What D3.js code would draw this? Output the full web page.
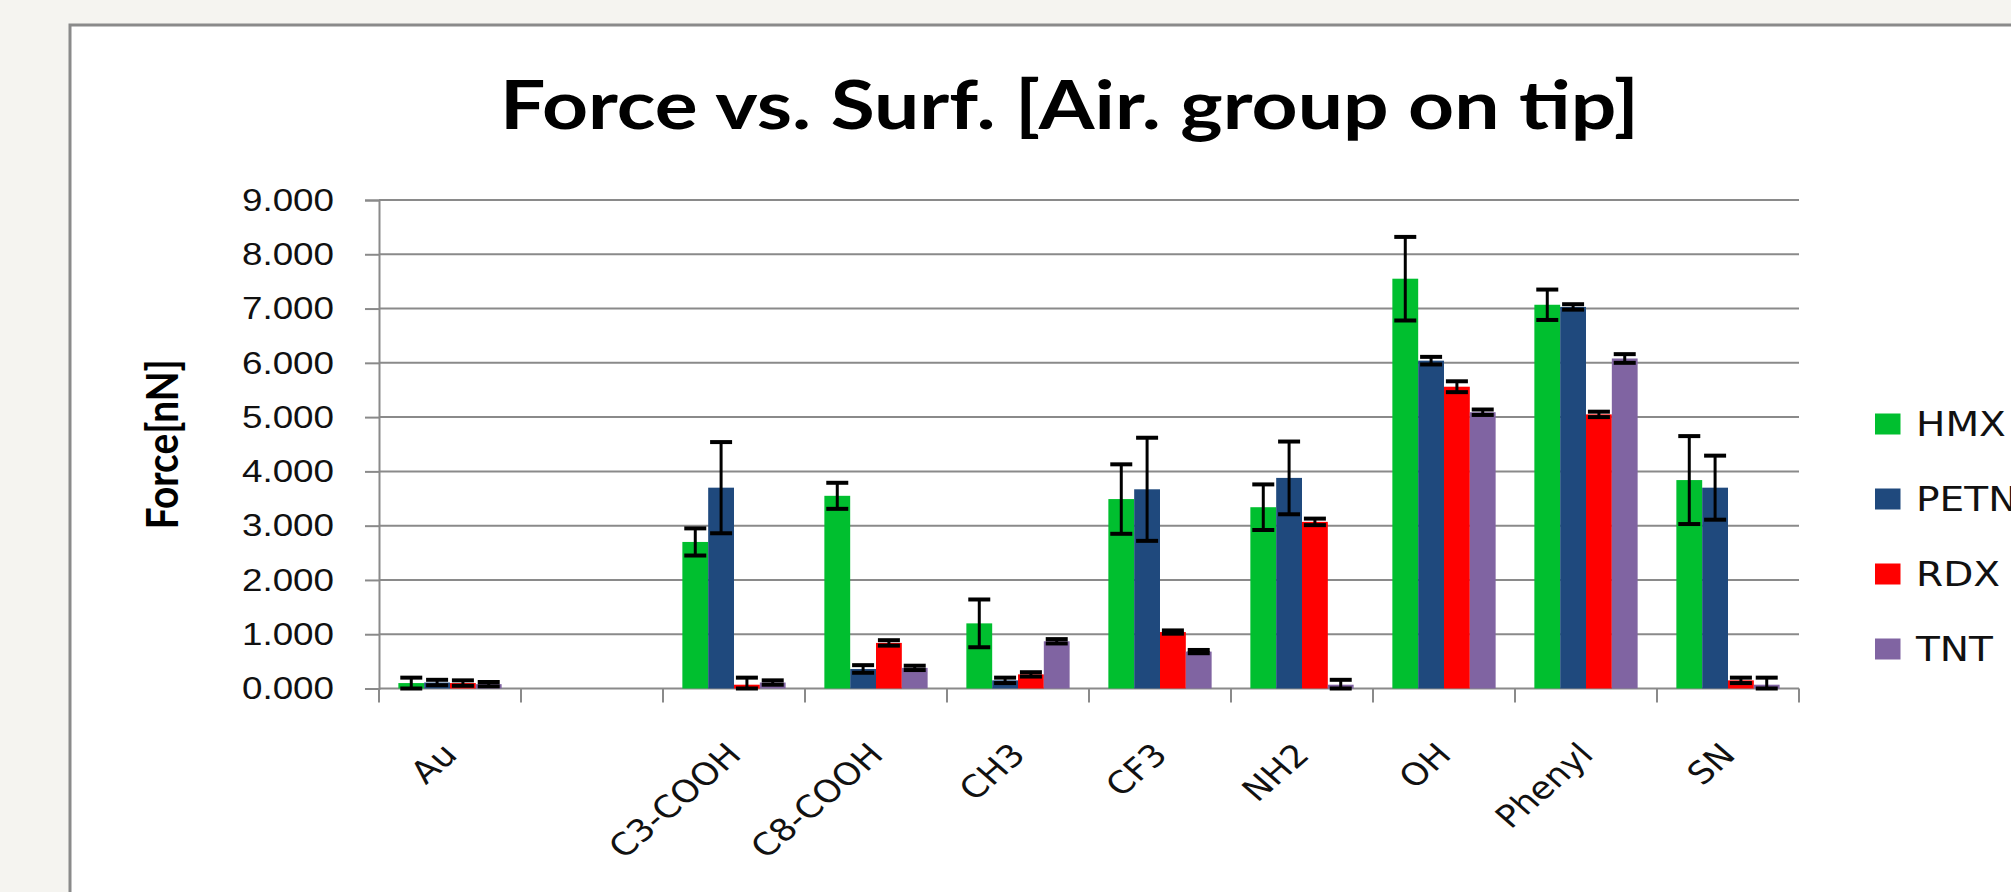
<!DOCTYPE html>
<html>
<head>
  <title>Force vs. Surf.</title>
  <script src="https://d3js.org/d3.v7.min.js"></script>
  <style>
    body { margin: 0; background: #f5f4f0; }
    svg { display: block; font-family: "DejaVu Sans", sans-serif; }
  </style>
</head>
<body>
  <svg width="2011" height="892"></svg>

  <script>
    // data
    const categories = ["Au", "", "C3-COOH", "C8-COOH", "CH3", "CF3", "NH2", "OH", "Phenyl", "SN"];
    const seriesNames = ["HMX", "PETN", "RDX", "TNT"];
    const hmx     = [0.10, null, 2.70, 3.55, 1.20, 3.49, 3.34, 7.55, 7.07, 3.84];
    const hmxErr  = [0.10, null, 0.25, 0.24, 0.44, 0.64, 0.42, 0.77, 0.28, 0.81];
    const petn    = [0.11, null, 3.70, 0.36, 0.15, 3.67, 3.88, 6.04, 7.03, 3.70];
    const petnErr = [0.05, null, 0.84, 0.07, 0.05, 0.95, 0.67, 0.07, 0.05, 0.59];
    const rdx     = [0.10, null, 0.07, 0.84, 0.26, 1.04, 3.07, 5.56, 5.05, 0.15];
    const rdxErr  = [0.05, null, 0.13, 0.05, 0.04, 0.03, 0.06, 0.10, 0.05, 0.05];
    const tnt     = [0.08, null, 0.11, 0.38, 0.87, 0.68, 0.07, 5.09, 6.08, 0.07];
    const tntErr  = [0.04, null, 0.04, 0.04, 0.04, 0.03, 0.09, 0.05, 0.08, 0.13];
    const yTicks = [0, 1, 2, 3, 4, 5, 6, 7, 8, 9];

    const colors = { HMX: "#00bf2f", PETN: "#1f497d", RDX: "#ff0000", TNT: "#8064a2" };
    const values = [hmx, petn, rdx, tnt];
    const errors = [hmxErr, petnErr, rdxErr, tntErr];
    const stretch = 1.15; // the picture is a bit wider than tall

    const svg = d3.select("svg");

    // chart frame
    svg.append("rect")
      .attr("x", 70).attr("y", 25)
      .attr("width", 2100).attr("height", 1000)
      .attr("fill", "#fff")
      .attr("stroke", "#8a8a8a")
      .attr("stroke-width", 3);

    const plot = { left: 379, right: 1799, top: 200, bottom: 688.5 };

    const x = d3.scaleBand()
      .domain(categories)
      .range([plot.left, plot.right]);

    const gap = x.bandwidth() * 1.5 / 5.5;
    const x1 = d3.scaleBand()
      .domain(seriesNames)
      .range([gap / 2, x.bandwidth() - gap / 2]);

    const y = d3.scaleLinear()
      .domain([0, 9])
      .range([plot.bottom, plot.top]);

    // gridlines + y axis
    const yAxis = svg.append("g")
      .attr("transform", `translate(${plot.left},0)`)
      .call(d3.axisLeft(y).tickValues(yTicks)
        .tickSize(14)
        .tickFormat(d3.format(".3f")));
    yAxis.select(".domain").attr("stroke", "#8a8a8a").attr("stroke-width", 2);
    yAxis.selectAll(".tick line").attr("stroke", "#8a8a8a").attr("stroke-width", 2);
    yAxis.selectAll(".tick text")
      .attr("x", -45 / stretch)
      .attr("transform", `scale(${stretch},1)`)
      .attr("font-size", 32)
      .attr("fill", "#111");

    svg.append("g")
      .selectAll("line")
      .data(yTicks.filter(d => d > 0))
      .join("line")
      .attr("x1", plot.left).attr("x2", plot.right)
      .attr("y1", d => y(d)).attr("y2", d => y(d))
      .attr("stroke", "#8a8a8a")
      .attr("stroke-width", 2);

    // x axis with ticks between categories
    const xAxis = svg.append("g")
      .attr("transform", `translate(0,${plot.bottom})`);
    xAxis.append("line")
      .attr("x1", plot.left).attr("x2", plot.right)
      .attr("stroke", "#8a8a8a").attr("stroke-width", 2);
    xAxis.selectAll(".sep")
      .data(categories.map(c => x(c)).concat([plot.right]))
      .join("line")
      .attr("class", "sep")
      .attr("x1", d => d).attr("x2", d => d)
      .attr("y1", 0).attr("y2", 14)
      .attr("stroke", "#8a8a8a").attr("stroke-width", 2);
    xAxis.selectAll(".lab")
      .data(categories)
      .join("text")
      .attr("class", "lab")
      .attr("text-anchor", "end")
      .attr("font-size", 31)
      .attr("fill", "#111")
      .attr("transform", d => `translate(${x(d) + x.bandwidth() / 2 + 9},68) scale(${stretch},1) rotate(-45)`)
      .text(d => d);

    // bars
    const rows = [];
    seriesNames.forEach((s, i) => {
      categories.forEach((c, j) => {
        if (values[i][j] != null) rows.push({ s, c, v: values[i][j], e: errors[i][j] });
      });
    });

    svg.append("g")
      .selectAll("rect")
      .data(rows)
      .join("rect")
      .attr("x", d => x(d.c) + x1(d.s))
      .attr("y", d => y(d.v))
      .attr("width", x1.bandwidth())
      .attr("height", d => y(0) - y(d.v))
      .attr("fill", d => colors[d.s]);

    // error bars
    const eb = svg.append("g").attr("stroke", "#000");
    const cx = d => x(d.c) + x1(d.s) + x1.bandwidth() / 2;
    eb.selectAll(".stem")
      .data(rows)
      .join("line")
      .attr("x1", cx).attr("x2", cx)
      .attr("y1", d => y(d.v + d.e)).attr("y2", d => y(Math.max(0, d.v - d.e)))
      .attr("stroke-width", 3);
    eb.selectAll(".cap")
      .data(rows.flatMap(d => [{ d, v: d.v + d.e }, { d, v: Math.max(0, d.v - d.e) }]))
      .join("line")
      .attr("x1", p => cx(p.d) - 11).attr("x2", p => cx(p.d) + 11)
      .attr("y1", p => y(p.v)).attr("y2", p => y(p.v))
      .attr("stroke-width", 4);

    // legend
    const legendY = d3.scalePoint()
      .domain(seriesNames)
      .range([424, 649]);
    const lg = svg.append("g");
    lg.selectAll("rect")
      .data(seriesNames)
      .join("rect")
      .attr("x", 1875).attr("y", d => legendY(d) - 10.5)
      .attr("width", 25.5).attr("height", 21)
      .attr("fill", d => colors[d]);
    lg.selectAll("text")
      .data(seriesNames)
      .join("text")
      .attr("transform", d => `translate(1916,${legendY(d) + 12}) scale(${stretch},1)`)
      .attr("font-size", 34)
      .attr("fill", "#111")
      .text(d => d);

    // title, fitted to its width in the picture
    const title = svg.append("text")
      .attr("font-family", "Lato, sans-serif")
      .attr("font-weight", "bold")
      .attr("font-size", 66)
      .attr("text-anchor", "middle")
      .text("Force vs. Surf. [Air. group on tip]");
    const tw = title.node().getComputedTextLength();
    title.attr("transform", `translate(1069.5,129) scale(${1139 / tw},1)`);

    // y axis title
    const yt = svg.append("text")
      .attr("font-family", "Lato, sans-serif")
      .attr("font-weight", "bold")
      .attr("font-size", 38)
      .attr("text-anchor", "middle")
      .text("Force[nN]");
    const yl = yt.node().getComputedTextLength();
    yt.attr("font-size", 38 * 170 / yl)
      .attr("transform", `translate(178,${(plot.top + plot.bottom) / 2}) scale(${stretch},1) rotate(-90)`);
  </script>
</body>
</html>
